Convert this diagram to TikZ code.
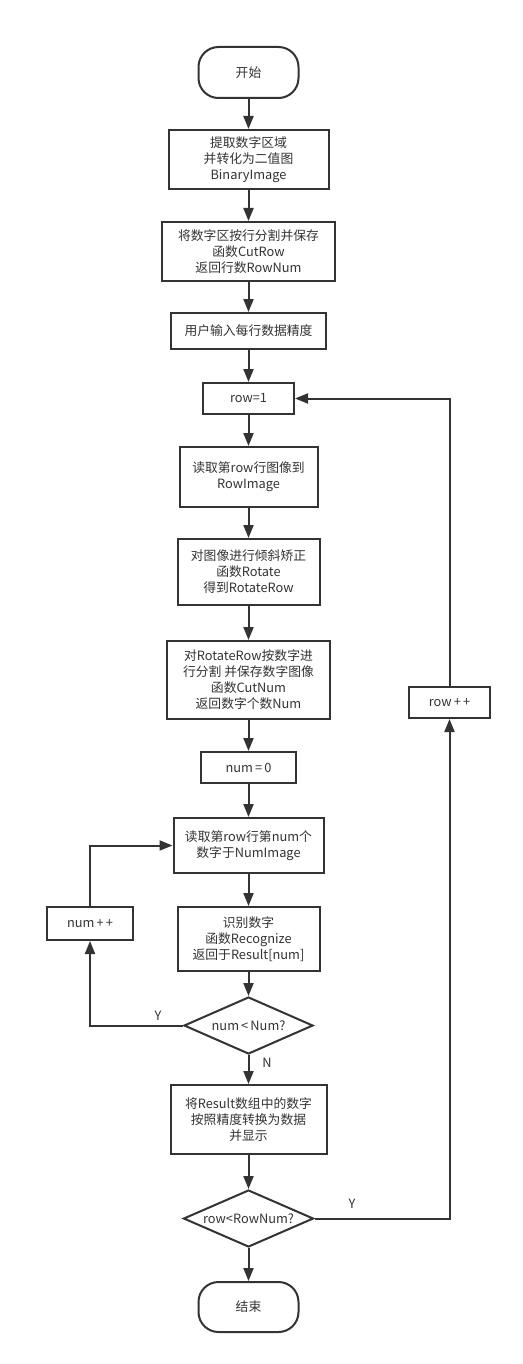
\documentclass[tikz,border=0pt]{standalone}
\usepackage{fontspec}
\setmainfont{Noto Sans CJK SC}
\usetikzlibrary{arrows.meta,shapes.geometric}
\definecolor{ink}{HTML}{333333}
\tikzset{
  base/.style={draw=ink, line width=2pt, text=ink, inner sep=0pt, align=center,
    font=\fontsize{12.8pt}{16pt}\selectfont},
  proc/.style={base, rectangle},
  term/.style={base, rectangle, rounded corners=20pt},
  dec/.style={base, diamond, label={[text=ink,font=\fontsize{12.8pt}{16pt}\selectfont]center:#1}},
  conn/.style={draw=ink, line width=2pt, -{Triangle[length=13pt,width=10pt]}},
  lbl/.style={text=ink, font=\fontsize{12.8pt}{16pt}\selectfont, inner sep=0pt}
}
\begin{document}
\begin{tikzpicture}[x=1pt,y=-1pt]
\useasboundingbox (0,0) rectangle (522,1364);
\def\cx{248.5}
\node[term, minimum width=100pt, minimum height=51pt] (start) at (\cx,72.5) {开始};
\node[proc, minimum width=160pt, minimum height=59pt] (b1) at (\cx,159.5) {提取数字区域\\并转化为二值图\\BinaryImage};
\node[proc, minimum width=173pt, minimum height=59pt] (b2) at (\cx,251.5) {将数字区按行分割并保存\\函数CutRow\\返回行数RowNum};
\node[proc, minimum width=155pt, minimum height=36pt] (b3) at (\cx,331) {用户输入每行数据精度};
\node[proc, minimum width=91pt, minimum height=31pt] (row1) at (\cx,398.5) {row=1};
\node[proc, minimum width=138pt, minimum height=60pt] (b5) at (\cx,477) {读取第row行图像到\\RowImage};
\node[proc, minimum width=142pt, minimum height=66pt] (b6) at (\cx,572) {对图像进行倾斜矫正\\函数Rotate\\得到RotateRow};
\node[proc, minimum width=163pt, minimum height=78pt] (b7) at (\cx,680) {对RotateRow按数字进\\行分割 并保存数字图像\\函数CutNum\\返回数字个数Num};
\node[proc, minimum width=81pt, minimum height=31pt] (rowpp) at (449.5,702.5) {row\,+\,+};
\node[proc, minimum width=95pt, minimum height=31pt] (num0) at (\cx,767.5) {num\,=\,0};
\node[proc, minimum width=150pt, minimum height=55pt] (b8) at (\cx,845.5) {读取第row行第num个\\数字于NumImage};
\node[proc, minimum width=86pt, minimum height=33pt] (numpp) at (90,923.5) {num\,+\,+};
\node[proc, minimum width=142pt, minimum height=64pt] (b9) at (\cx,939) {识别数字\\函数Recognize\\返回于Result[num]};
\node[dec={num\,<\,Num?}, minimum width=129pt, minimum height=57pt] (d1) at (\cx,1025.5) {};
\node[proc, minimum width=156pt, minimum height=69pt] (b10) at (\cx,1119.5) {将Result数组中的数字\\按照精度转换为数据\\并显示};
\node[dec={row<RowNum?}, minimum width=130pt, minimum height=57pt] (d2) at (\cx,1218.5) {};
\node[term, minimum width=100pt, minimum height=50pt] (end) at (\cx,1307) {结束};

\draw[conn] (start) -- (b1);
\draw[conn] (b1) -- (b2);
\draw[conn] (b2) -- (b3);
\draw[conn] (b3) -- (row1);
\draw[conn] (row1) -- (b5);
\draw[conn] (b5) -- (b6);
\draw[conn] (b6) -- (b7);
\draw[conn] (b7) -- (num0);
\draw[conn] (num0) -- (b8);
\draw[conn] (b8) -- (b9);
\draw[conn] (b9) -- (d1);
\draw[conn] (d1) -- (b10);
\draw[conn] (b10) -- (d2);
\draw[conn] (d2) -- (end);
\draw[conn] (d1.west) -| (numpp.south);
\draw[conn] (numpp.north) |- (b8.west);
\draw[conn] (d2.east) -| (rowpp.south);
\draw[conn] (rowpp.north) |- (row1.east);

\node[lbl] (ly1) at (158,1016) {Y};
\node[lbl] (ln1) at (267,1063) {N};
\node[lbl] (ly2) at (352,1204) {Y};
\end{tikzpicture}
\end{document}
